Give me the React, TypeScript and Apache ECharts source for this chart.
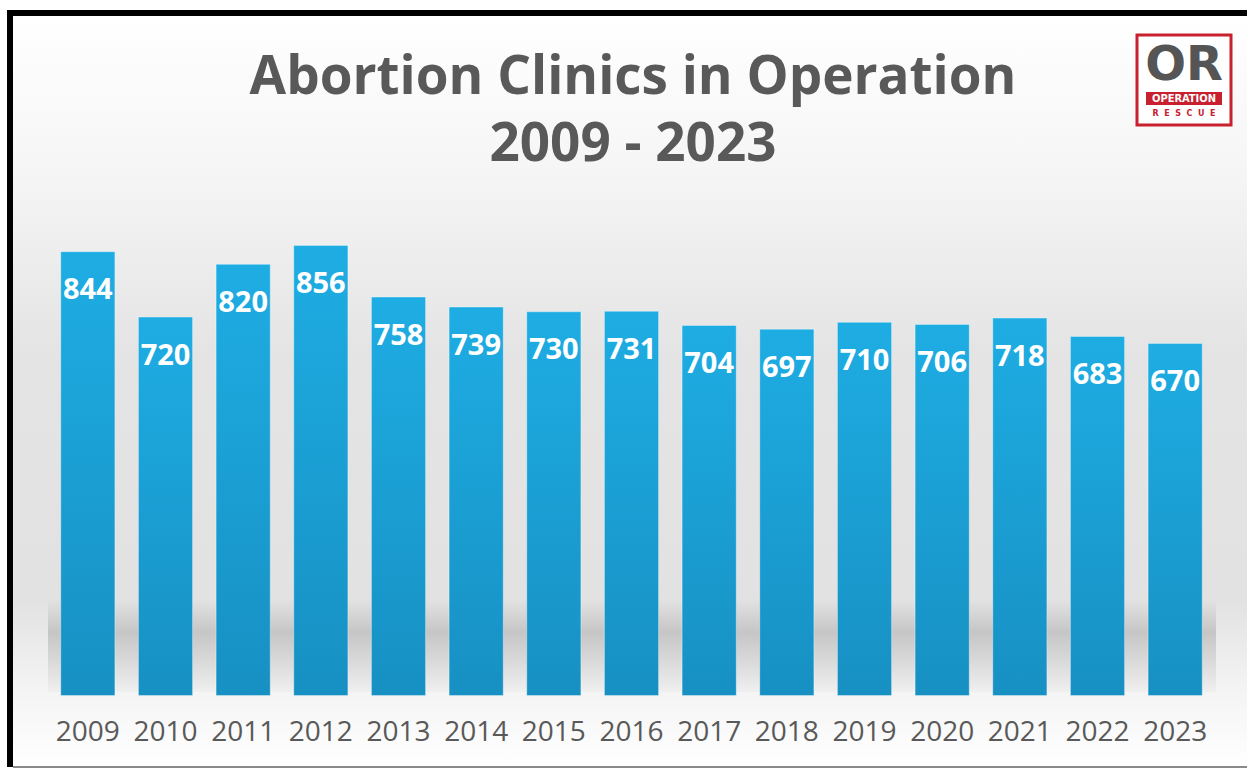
import React, { useEffect, useRef } from "react";
import * as echarts from "echarts";

const years = ["2009", "2010", "2011", "2012", "2013", "2014", "2015", "2016", "2017", "2018", "2019", "2020", "2021", "2022", "2023"];
const clinics = [844, 720, 820, 856, 758, 739, 730, 731, 704, 697, 710, 706, 718, 683, 670];
const titleLine1 = "Abortion Clinics in Operation";
const titleLine2 = "2009 - 2023";

export default function App() {
  const ref = useRef<HTMLDivElement>(null);
  useEffect(() => {
    document.body.style.margin = "0";
    const chart = echarts.init(ref.current!, undefined, { renderer: "svg" });
    const font = "'Open Sans', 'Noto Sans', sans-serif";
    chart.setOption({
      animation: false,
      backgroundColor: "#ffffff",
      graphic: [
        {
          type: "rect",
          z: -10,
          silent: true,
          shape: { x: 10, y: 13, width: 1240, height: 753 },
          style: {
            fill: new echarts.graphic.LinearGradient(0, 0, 0, 1, [
              { offset: 0, color: "#ffffff" },
              { offset: 0.2, color: "#f6f6f6" },
              { offset: 0.45, color: "#e4e4e4" },
              { offset: 0.78, color: "#e2e2e2" },
              { offset: 0.9, color: "#f4f4f4" },
              { offset: 1, color: "#ffffff" },
            ]),
          },
        },
        {
          type: "polyline",
          silent: true,
          shape: { points: [[10, 767], [10, 13], [1250, 13]] },
          style: { stroke: "#000000", lineWidth: 6, fill: "none" },
        },
        {
          type: "line",
          silent: true,
          shape: { x1: 13, y1: 767, x2: 1247, y2: 767 },
          style: { stroke: "#8a8a8a", lineWidth: 2 },
        },
        {
          type: "rect",
          z: -5,
          silent: true,
          shape: { x: 48, y: 600, width: 1168, height: 92 },
          style: {
            fill: new echarts.graphic.LinearGradient(0, 0, 0, 1, [
              { offset: 0, color: "rgba(0,0,0,0)" },
              { offset: 0.35, color: "rgba(0,0,0,0.15)" },
              { offset: 0.7, color: "rgba(0,0,0,0.08)" },
              { offset: 1, color: "rgba(0,0,0,0.02)" },
            ]),
          },
        },
        {
          type: "text",
          x: 633,
          y: 40,
          style: {
            text: titleLine1 + "\n" + titleLine2,
            font: "bold 53px " + font,
            fill: "#595959",
            align: "center",
            verticalAlign: "top",
            lineHeight: 67,
          },
        },
        {
          type: "group",
          x: 1137,
          y: 35,
          children: [
            { type: "rect", shape: { x: 0, y: 0, width: 94, height: 90 }, style: { fill: "#ffffff", stroke: "#c8202f", lineWidth: 3 } },
            { type: "text", x: 47, y: 4, style: { text: "OR", font: "bold 48px 'DejaVu Sans'", fill: "#555555", align: "center", verticalAlign: "top" } },
            { type: "rect", shape: { x: 9, y: 57, width: 76, height: 13 }, style: { fill: "#c8202f" } },
            { type: "text", x: 47, y: 63.5, style: { text: "OPERATION", font: "bold 11px 'DejaVu Sans Condensed', sans-serif", fill: "#ffffff", align: "center", verticalAlign: "middle" } },
            { type: "text", x: 47, y: 78, style: { text: "R  E  S  C  U  E", font: "bold 8px 'DejaVu Sans', sans-serif", fill: "#c8202f", align: "center", verticalAlign: "middle" } },
          ],
        },
      ],
      grid: { left: 49, right: 33, top: 169, bottom: 73 },
      xAxis: {
        type: "category",
        data: years,
        axisLine: { show: false },
        axisTick: { show: false },
        axisLabel: { interval: 0, color: "#595959", fontSize: 28, fontFamily: font, margin: 20 },
      },
      yAxis: { type: "value", min: 0, max: 1000, show: false, splitLine: { show: false } },
      series: [
        {
          type: "bar",
          data: clinics,
          barCategoryGap: "29%",
          itemStyle: {
            color: new echarts.graphic.LinearGradient(0, 0, 0, 1, [
              { offset: 0, color: "#1eade3" },
              { offset: 1, color: "#1790c3" },
            ]),
            borderColor: "rgba(255,255,255,0.35)",
            borderWidth: 1,
          },
          label: {
            show: true,
            position: "insideTop",
            distance: 22,
            color: "#ffffff",
            fontSize: 29,
            fontWeight: "bold",
            fontFamily: font,
          },
        },
      ],
    });
    return () => chart.dispose();
  }, []);
  return <div ref={ref} style={{ width: 1247, height: 769 }} />;
}
